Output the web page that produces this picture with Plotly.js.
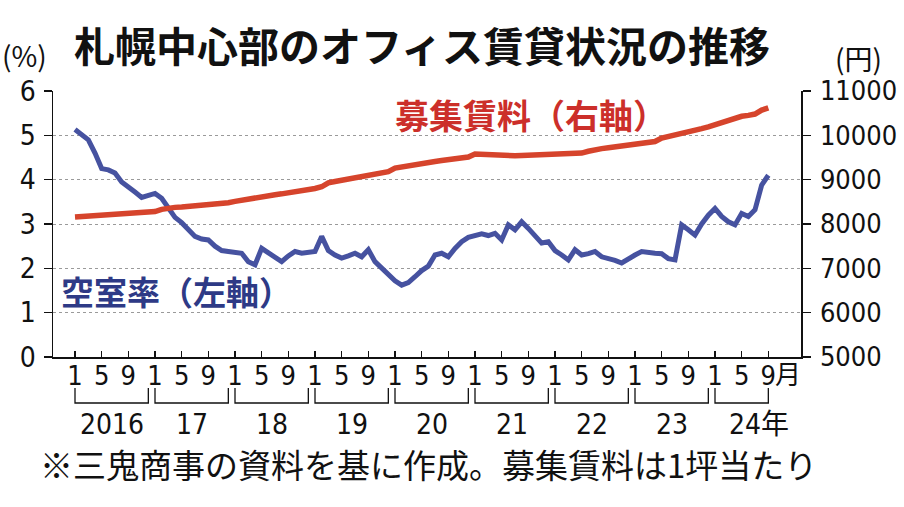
<!DOCTYPE html>
<html>
<head>
<meta charset="utf-8">
<script src="https://cdn.plot.ly/plotly-3.0.1.min.js"></script>
<style>html,body{margin:0;padding:0;background:#fff;}#chart{width:904px;height:507px;}</style>
</head>
<body>
<div id="chart"></div>
<script>
// ---- data ----
const startYear = 2016;
const years = [2016, 2017, 2018, 2019, 2020, 2021, 2022, 2023, 2024];
const yearLabels = ["2016", "17", "18", "19", "20", "21", "22", "23", "24年"];
const tickMonths = [1, 5, 9];
const lastMonth = 9; // 2024年9月
// 空室率 (%) monthly, 2016-01 .. 2024-09
const vacancy = [
  5.13, 5.00, 4.90, 4.60, 4.25, 4.22, 4.15, 3.95, 3.82, 3.72, 3.60, 3.65,
  3.69, 3.58, 3.35, 3.15, 3.03, 2.88, 2.72, 2.66, 2.64, 2.50, 2.40, 2.38,
  2.37, 2.34, 2.15, 2.08, 2.45, 2.34, 2.25, 2.15, 2.28, 2.38, 2.34, 2.36,
  2.38, 2.72, 2.40, 2.30, 2.23, 2.28, 2.34, 2.26, 2.42, 2.15, 2.00, 1.85,
  1.72, 1.62, 1.68, 1.81, 1.95, 2.05, 2.30, 2.34, 2.26, 2.45, 2.60, 2.70,
  2.75, 2.78, 2.74, 2.79, 2.64, 2.98, 2.87, 3.05, 2.90, 2.75, 2.57, 2.60,
  2.40, 2.30, 2.19, 2.42, 2.30, 2.33, 2.38, 2.26, 2.23, 2.18, 2.12, 2.22,
  2.30, 2.38, 2.35, 2.34, 2.33, 2.22, 2.19, 2.98, 2.87, 2.75, 3.00, 3.20,
  3.35, 3.17, 3.05, 2.98, 3.24, 3.17, 3.32, 3.88, 4.10
];
// 募集賃料 (円/坪) monthly
const rent = [
  8160, 8170, 8175, 8180, 8185, 8190, 8200, 8205, 8215, 8225, 8240, 8260,
  8280, 8330, 8360, 8375, 8385, 8395, 8405, 8415, 8425, 8440, 8460, 8480,
  8510, 8540, 8570, 8590, 8615, 8640, 8660, 8680, 8700, 8720, 8740, 8770,
  8800, 8840, 8930, 8960, 8990, 9020, 9050, 9080, 9100, 9120, 9150, 9180,
  9260, 9290, 9320, 9350, 9370, 9390, 9410, 9430, 9450, 9470, 9490, 9510,
  9580, 9570, 9550, 9540, 9535, 9535, 9540, 9545, 9550, 9550, 9555, 9560,
  9565, 9570, 9575, 9580, 9600, 9640, 9680, 9700, 9720, 9740, 9760, 9775,
  9790, 9800, 9820, 9860, 9940, 9970, 10000, 10040, 10070, 10110, 10150, 10190,
  10240, 10300, 10350, 10410, 10430, 10450, 10480, 10570, 10620
];

// ---- derived ----
const monthIdx = vacancy.map((_, i) => i);
const lastIdx = (years[years.length - 1] - startYear) * 12 + (lastMonth - 1);
const tickvals = [], ticktext = [];
years.forEach(y => tickMonths.forEach(m => {
  const idx = (y - startYear) * 12 + (m - 1);
  if (idx <= lastIdx) { tickvals.push(idx); ticktext.push(String(m)); }
}));

// pixel helpers (plot area: x 53..801, y 91..357)
const L = 53, R = 103, T = 91, B = 150, W = 904, H = 507;
const PW = W - L - R, PH = H - T - B;
const py = p => (H - B - p) / PH;       // pixel y -> paper y
const pxp = p => (p - L) / PW;          // pixel x -> paper x

const narrow = "Liberation Sans Narrow, DejaVu Sans Condensed, Noto Sans CJK JP, sans-serif";
const cjk = "Noto Sans CJK JP, sans-serif";

const shapes = [];
const annotations = [];
years.forEach((y, k) => {
  const x0 = (y - startYear) * 12;
  const x1 = Math.min(x0 + 11, lastIdx);
  shapes.push({
    type: 'path', xref: 'x', yref: 'paper',
    path: `M ${x0},${py(388)} L ${x0},${py(403)} L ${x1},${py(403)} L ${x1},${py(388)}`,
    line: {color: '#111', width: 1.3}
  });
  const isLast = k === years.length - 1;
  annotations.push({
    xref: 'x', yref: 'paper', x: (x0 + x1) / 2, y: py(424),
    text: yearLabels[k], showarrow: false,
    xanchor: isLast ? 'left' : 'center', yanchor: 'middle',
    xshift: isLast ? -15 : 0,
    font: {family: narrow, size: 28, color: '#111'}
  });
});
// 月 after last tick
annotations.push({
  xref: 'x', yref: 'paper', x: lastIdx, y: py(372), text: '月', showarrow: false,
  xanchor: 'left', yanchor: 'middle', xshift: 5,
  font: {family: cjk, size: 26, color: '#111'}
});
annotations.push({
  xref: 'paper', yref: 'paper', x: pxp(24), y: py(55), text: '(%)', showarrow: false,
  xanchor: 'center', yanchor: 'middle', font: {family: cjk, size: 28, color: '#111'}
});
annotations.push({
  xref: 'paper', yref: 'paper', x: pxp(858), y: py(58), text: '(円)', showarrow: false,
  xanchor: 'center', yanchor: 'middle', font: {family: cjk, size: 28, color: '#111'}
});
annotations.push({
  xref: 'paper', yref: 'paper', x: pxp(531), y: py(114), text: '募集賃料（右軸）', showarrow: false,
  xanchor: 'center', yanchor: 'middle', font: {family: cjk, size: 34, color: '#cc2f2a', weight: 700}
});
annotations.push({
  xref: 'paper', yref: 'paper', x: pxp(176), y: py(291), text: '空室率（左軸）', showarrow: false,
  xanchor: 'center', yanchor: 'middle', font: {family: cjk, size: 33, color: '#2e3a86', weight: 700}
});
annotations.push({
  xref: 'paper', yref: 'paper', x: pxp(38), y: py(464), text: '※三鬼商事の資料を基に作成。募集賃料は1坪当たり', showarrow: false,
  xanchor: 'left', yanchor: 'middle', font: {family: cjk, size: 33, color: '#111'}
});

const traces = [
  {x: monthIdx, y: rent, yaxis: 'y2', type: 'scatter', mode: 'lines',
   line: {color: '#d6442c', width: 5.5}, hoverinfo: 'skip'},
  {x: monthIdx, y: vacancy, yaxis: 'y', type: 'scatter', mode: 'lines',
   line: {color: '#4652a0', width: 5}, hoverinfo: 'skip'}
];

const layout = {
  width: W, height: H,
  margin: {l: L, r: R, t: T, b: B, pad: 0},
  paper_bgcolor: '#fff', plot_bgcolor: '#fff',
  showlegend: false,
  title: {text: '札幌中心部のオフィス賃貸状況の推移', xref: 'paper', x: pxp(422), xanchor: 'center',
          yref: 'container', y: 1 - 48 / H, yanchor: 'middle',
          font: {family: cjk, size: 41, color: '#111', weight: 700}},
  xaxis: {
    range: [-3.3, 108.9], tickmode: 'array', tickvals: tickvals, ticktext: ticktext,
    ticks: 'inside', ticklen: 6, tickwidth: 1.2, tickcolor: '#111',
    showline: true, linecolor: '#111', linewidth: 1.5, showgrid: false, zeroline: false,
    tickfont: {family: narrow, size: 27, color: '#111'}, ticklabelstandoff: -6, fixedrange: true
  },
  yaxis: {
    range: [0, 6], dtick: 1, tick0: 0, ticks: 'outside', ticklen: 8, tickwidth: 1.2, tickcolor: '#111',
    showline: true, linecolor: '#111', linewidth: 1.5, zeroline: false,
    showgrid: true, gridcolor: '#9a9a9a', griddash: 'dot', gridwidth: 1,
    tickfont: {family: narrow, size: 28, color: '#111'}, ticklabelstandoff: 2, fixedrange: true
  },
  yaxis2: {
    range: [5000, 11000], dtick: 1000, tick0: 5000, overlaying: 'y', side: 'right',
    tickformat: 'd',
    ticks: 'outside', ticklen: 8, tickwidth: 1.2, tickcolor: '#111',
    showline: true, linecolor: '#111', linewidth: 1.5, zeroline: false, showgrid: false,
    tickfont: {family: narrow, size: 27, color: '#111'}, ticklabelstandoff: 4, fixedrange: true
  },
  shapes: shapes,
  annotations: annotations
};

Plotly.newPlot('chart', traces, layout, {displayModeBar: false, staticPlot: true});
</script>
</body>
</html>
